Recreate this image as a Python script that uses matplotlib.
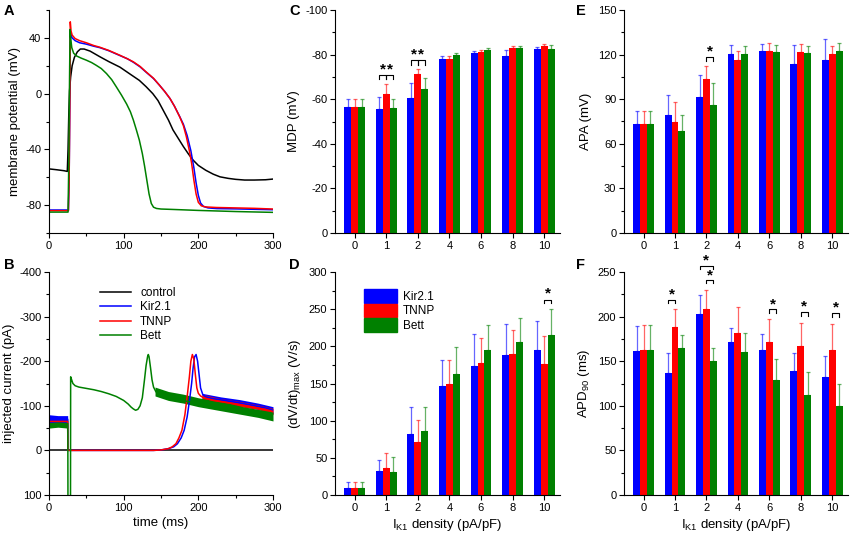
import numpy as np
import matplotlib
matplotlib.use("Agg")
from matplotlib import pyplot as plt
from matplotlib.ticker import MultipleLocator
from matplotlib.patches import Patch

plt.rcParams['font.family'] = ['Liberation Sans', 'DejaVu Sans']
plt.rcParams['font.size'] = 8
plt.rcParams['axes.unicode_minus'] = False

BLUE = '#0000ff'
RED = '#ff0000'
GREEN = '#008000'

# ---- panel A : action potentials (time ms, membrane potential mV)
a_ctrl_t = [0, 10, 20, 24.5, 25.5, 26.5, 27.5, 29, 31, 34, 38, 42, 47, 55, 68, 80, 95, 110, 121, 130, 139,
            146, 153, 160, 166, 173, 180, 187, 193, 200, 210, 220, 229, 240, 250, 262, 275, 290, 300]
a_ctrl_v = [-54, -54.6, -55.3, -55.8, -40, -15, 2, 12, 20, 26, 30, 32, 32, 30.5, 26.5, 23, 19, 13.5, 9.5, 5, 0,
            -5, -12, -19, -26, -32, -38, -43.5, -47.7, -51.5, -55, -57.8, -59.7, -60.8, -61.5, -62, -62, -61.8, -61.3]

a_tnnp_t = [0, 26, 27, 28, 28.5, 29.5, 31, 35, 41, 50, 60, 68, 80, 95, 105, 113, 122, 130, 140, 148, 155, 162,
            168, 175, 180, 184, 188, 191, 194, 197, 200, 204, 210, 224, 250, 275, 300]
a_tnnp_v = [-84, -84, -60, 0, 51.5, 45, 42, 39.5, 38, 36.5, 34.5, 33.3, 31, 27.5, 25, 22.8, 19.5, 15.6, 11, 6, 1.5,
            -3.5, -9, -16.6, -23, -31, -41, -50, -62, -72, -78, -80.5, -81.3, -81.7, -82, -82.3, -82.8]

a_kir_t = [0, 26, 27, 28, 28.7, 29.5, 31, 35, 41, 50, 60, 68, 80, 95, 105, 113, 122, 130, 140, 148, 155, 162,
           168, 175, 180, 185, 190, 194, 197, 200, 203, 207, 213, 225, 250, 275, 300]
a_kir_v = [-83.5, -83.5, -60, 0, 44, 42, 40, 38, 36.5, 35.5, 34, 33, 30.8, 27.3, 25, 22.5, 19.2, 15.4, 10.8, 6, 1.5,
           -3.5, -9, -16.4, -22, -30, -41, -53, -64, -73, -78.5, -81, -82, -82.5, -82.7, -83, -83.3]

a_bett_t = [0, 25.5, 26.5, 27.5, 28.2, 29, 30.5, 33, 37, 43, 50, 57, 63, 70, 77, 84, 90, 97, 104, 109, 113, 117,
            121, 125, 128, 131, 134, 137, 140, 144, 150, 166, 200, 250, 300]
a_bett_v = [-85, -85, -50, 10, 46, 40, 33, 29, 27, 25.5, 24, 22.3, 20.4, 18, 14.4, 10, 5, -1, -7.5, -13, -19, -26,
            -33.4, -43, -52, -62, -72, -78.8, -81.5, -82.4, -82.8, -83.1, -83.8, -84.6, -85.2]

# ---- panel B : injected current (pA)
b_ctrl_t = [0, 300]
b_ctrl_i = [0, 0]

b_kir_t = [0, 25, 25.3, 30, 60, 100, 140, 150, 160, 167, 172, 177, 181, 185, 188, 191, 193, 195, 197, 199, 201,
           203, 206, 210, 220, 235, 250, 270, 290, 300]
b_kir_i = [-70, -70, 0, 0, 0, 0, 0, -1, -4, -8, -15, -28, -45, -75, -110, -150, -185, -210, -215, -200, -170,
           -140, -125, -120, -116, -112, -108, -102, -95, -90]

b_tnnp_t = [0, 25, 25.3, 30, 60, 100, 140, 150, 160, 165, 170, 174, 178, 182, 185, 188, 190, 192, 194, 196, 198,
            200, 203, 207, 220, 235, 250, 270, 290, 300]
b_tnnp_i = [-65, -65, 0, 0, 0, 0, 0, -1, -4, -8, -15, -28, -45, -80, -120, -165, -200, -215, -205, -170, -140,
            -128, -122, -118, -112, -108, -104, -98, -92, -87]

b_bett_t = [0, 25.2, 25.4, 28.8, 29.0, 30, 32, 35, 40, 50, 60, 70, 80, 90, 100, 106, 110, 113, 116, 119, 122,
            125, 128, 130, 132, 133, 134, 136, 138, 140, 143, 147, 155, 170, 185, 200, 220, 240, 260, 280, 300]
b_bett_i = [-60, -60, 120, 120, -165, -160, -150, -145, -142, -139, -136, -132, -127, -121, -112, -104, -97, -93,
            -90, -92, -100, -118, -160, -190, -210, -215, -210, -185, -158, -142, -132, -125, -120, -114, -110,
            -106, -100, -94, -88, -82, -78]

# noise envelopes
nz_kir_t = [0, 12, 25, 205, 230, 255, 280, 300]
nz_kir_lo = [-62, -64, -62, -114, -106, -100, -92, -82]
nz_kir_hi = [-80, -78, -78, -128, -120, -114, -106, -98]
nz_tnnp_t = [205, 230, 255, 280, 300]
nz_tnnp_lo = [-112, -104, -98, -92, -80]
nz_tnnp_hi = [-126, -116, -110, -102, -94]
nz_bett_t = [0, 12, 25, 142, 160, 180, 200, 220, 240, 260, 280, 300]
nz_bett_lo = [-50, -52, -50, -122, -112, -106, -98, -92, -86, -80, -74, -66]
nz_bett_hi = [-70, -68, -70, -142, -132, -126, -118, -112, -106, -98, -92, -86]

# ---- bar panels
groups = ['0', '1', '2', '4', '6', '8', '10']

mdp_kir = [-56.3, -55.5, -60.7, -78.0, -80.6, -79.4, -82.5]
mdp_kir_err = [4.0, 5.4, 6.5, 1.3, 0.9, 2.5, 1.1]
mdp_tnnp = [-56.3, -62.2, -71.2, -78.2, -81.3, -82.8, -84.0]
mdp_tnnp_err = [4.0, 4.8, 2.2, 1.2, 0.9, 0.9, 0.8]
mdp_bett = [-56.3, -56.0, -64.5, -79.7, -82.1, -83.1, -82.4]
mdp_bett_err = [4.0, 3.9, 4.9, 1.2, 0.7, 0.8, 1.8]

dvdt_kir = [9.9, 32.2, 82.0, 146.4, 173.8, 188.0, 194.8]
dvdt_kir_err = [7.1, 14.8, 36.7, 35.0, 43.4, 41.7, 39.9]
dvdt_tnnp = [9.9, 36.7, 71.7, 149.0, 178.2, 190.3, 176.9]
dvdt_tnnp_err = [7.1, 20.2, 29.1, 32.4, 33.2, 32.3, 36.7]
dvdt_bett = [9.9, 31.3, 86.0, 163.0, 195.7, 206.0, 215.8]
dvdt_bett_err = [7.1, 19.3, 31.8, 36.3, 32.7, 32.7, 34.5]

apa_kir = [73.0, 79.5, 91.8, 120.4, 122.2, 113.7, 116.6]
apa_kir_err = [9.2, 13.0, 14.8, 5.9, 5.2, 13.0, 13.9]
apa_tnnp = [73.0, 74.8, 103.7, 116.2, 122.7, 121.8, 120.7]
apa_tnnp_err = [9.2, 13.0, 8.7, 6.5, 5.3, 5.4, 5.3]
apa_bett = [73.0, 68.5, 86.4, 120.2, 121.6, 121.1, 122.4]
apa_bett_err = [9.2, 11.0, 14.6, 5.4, 5.1, 4.5, 5.2]

apd_kir = [161.9, 137.3, 202.6, 171.6, 162.7, 139.2, 132.1]
apd_kir_err = [27.7, 21.7, 21.7, 15.4, 17.9, 19.8, 23.9]
apd_tnnp = [163.0, 188.8, 209.0, 182.0, 172.0, 166.8, 162.7]
apd_tnnp_err = [28.0, 19.4, 21.0, 29.2, 25.0, 26.5, 29.5]
apd_bett = [163.0, 164.6, 150.7, 160.4, 129.0, 112.3, 99.3]
apd_bett_err = [28.0, 14.9, 14.6, 21.6, 23.6, 25.4, 24.6]

# significance: (group, bar a, bar b, bracket top, leg end, star y)
sig_mdp = [(1, 0, 1, -70.9, -69.1, -73.3), (1, 1, 2, -70.9, -69.1, -73.3),
           (2, 0, 1, -77.6, -75.4, -80.0), (2, 1, 2, -77.6, -75.4, -80.0)]
sig_dvdt = [(6, 1, 2, 262, 258, 271)]
sig_apa = [(2, 1, 2, 118.6, 115.7, 122.0)]
sig_apd = [(1, 0, 1, 218.7, 215.0, 225.0), (2, 0, 2, 256.7, 253.8, 262.5), (2, 1, 2, 241.5, 238.0, 246.5),
           (4, 1, 2, 208.6, 204.5, 214.0), (5, 1, 2, 205.6, 200.7, 211.0), (6, 1, 2, 204.5, 200.0, 210.0)]

W = 850
H = 535
fig = plt.figure(figsize=(W / 100, H / 100), dpi=100)


def px_axes(l, t, r, b):
    return fig.add_axes([l / W, 1 - b / H, (r - l) / W, (b - t) / H])


def style(ax):
    ax.spines['top'].set_visible(False)
    ax.spines['right'].set_visible(False)
    for s in ['left', 'bottom']:
        ax.spines[s].set_linewidth(0.8)
    ax.tick_params(direction='out', length=3.5, width=0.8, labelsize=8, pad=2)
    ax.tick_params(which='minor', direction='out', length=2, width=0.8)


LAB = 9.5

# A
axA = px_axes(49, 10, 273, 233)
axA.plot(a_ctrl_t, a_ctrl_v, color='k', lw=1.1)
axA.plot(a_kir_t, a_kir_v, color=BLUE, lw=1.1)
axA.plot(a_tnnp_t, a_tnnp_v, color=RED, lw=1.1)
axA.plot(a_bett_t, a_bett_v, color=GREEN, lw=1.1)
axA.set_xlim(0, 300)
axA.set_ylim(-100, 60)
axA.yaxis.set_minor_locator(MultipleLocator(20))
axA.xaxis.set_major_locator(MultipleLocator(100))
axA.xaxis.set_minor_locator(MultipleLocator(50))
axA.set_yticks([-80, -40, 0, 40])
axA.set_ylabel('membrane potential (mV)', fontsize=LAB, labelpad=3)
style(axA)

# B
axB = px_axes(49, 272, 273, 495)
axB.fill_between(nz_bett_t[:3], nz_bett_lo[:3], nz_bett_hi[:3], color=GREEN, lw=0)
axB.fill_between(nz_kir_t[:3], nz_kir_lo[:3], nz_kir_hi[:3], color=BLUE, lw=0)
axB.fill_between(nz_kir_t[3:], nz_kir_lo[3:], nz_kir_hi[3:], color=BLUE, lw=0)
axB.fill_between(nz_tnnp_t, nz_tnnp_lo, nz_tnnp_hi, color=RED, lw=0)
axB.fill_between(nz_bett_t[3:], nz_bett_lo[3:], nz_bett_hi[3:], color=GREEN, lw=0)
axB.plot(b_ctrl_t, b_ctrl_i, color='k', lw=1.1, label='control')
axB.plot(b_kir_t, b_kir_i, color=BLUE, lw=1.1, label='Kir2.1')
axB.plot(b_tnnp_t, b_tnnp_i, color=RED, lw=1.1, label='TNNP')
axB.plot(b_bett_t, b_bett_i, color=GREEN, lw=1.1, label='Bett')
axB.set_xlim(0, 300)
axB.set_ylim(100, -400)
axB.yaxis.set_major_locator(MultipleLocator(100))
axB.yaxis.set_minor_locator(MultipleLocator(50))
axB.xaxis.set_major_locator(MultipleLocator(100))
axB.xaxis.set_minor_locator(MultipleLocator(50))
axB.set_ylabel('injected current (pA)', fontsize=LAB, labelpad=3)
axB.set_xlabel('time (ms)', fontsize=LAB, labelpad=3)
axB.legend(loc='upper left', bbox_to_anchor=(0.18, 0.98), frameon=False, fontsize=8.5,
           handlelength=2.6, handletextpad=0.8, labelspacing=0.2)
style(axB)

xpos = np.arange(len(groups))
bw = 0.22


def bars(ax, series, neg=False):
    for k, (vals, errs, col) in enumerate(series):
        x = xpos + (k - 1) * bw
        ax.bar(x, vals, width=bw, color=col, edgecolor='none', zorder=2)
        zeros = [0] * len(errs)
        yerr = [errs, zeros] if neg else [zeros, errs]
        ax.errorbar(x, vals, yerr=yerr, fmt='none', ecolor=col, alpha=0.6,
                    elinewidth=0.9, capsize=1.6, capthick=0.9, zorder=3)
    ax.set_xticks(xpos)
    ax.set_xticklabels(groups)
    ax.set_xlim(-0.62, 6.5)
    style(ax)


def sig(ax, marks):
    for g, a, b, top, leg, sy in marks:
        x1 = xpos[g] + (a - 1) * bw
        x2 = xpos[g] + (b - 1) * bw
        ax.plot([x1, x1, x2, x2], [leg, top, top, leg], color='k', lw=0.8, clip_on=False, zorder=4)
        ax.text((x1 + x2) / 2, sy, '*', ha='center', va='center', fontsize=11,
                fontweight='bold', clip_on=False)


# C
axC = px_axes(335, 10, 560, 233)
bars(axC, [(mdp_kir, mdp_kir_err, BLUE), (mdp_tnnp, mdp_tnnp_err, RED), (mdp_bett, mdp_bett_err, GREEN)], neg=True)
axC.set_ylim(0, -100)
axC.yaxis.set_major_locator(MultipleLocator(20))
axC.yaxis.set_minor_locator(MultipleLocator(10))
axC.set_ylabel('MDP (mV)', fontsize=LAB, labelpad=4)
sig(axC, sig_mdp)

# D
axD = px_axes(335, 272, 560, 495)
bars(axD, [(dvdt_kir, dvdt_kir_err, BLUE), (dvdt_tnnp, dvdt_tnnp_err, RED), (dvdt_bett, dvdt_bett_err, GREEN)])
axD.set_ylim(0, 300)
axD.yaxis.set_major_locator(MultipleLocator(50))
axD.yaxis.set_minor_locator(MultipleLocator(25))
axD.set_ylabel('(dV/dt)$_{\\mathregular{max}}$ (V/s)', fontsize=LAB, labelpad=4)
axD.set_xlabel('I$_{\\mathregular{K1}}$ density (pA/pF)', fontsize=LAB, labelpad=3)
sig(axD, sig_dvdt)
handles = [Patch(color=BLUE, label='Kir2.1'), Patch(color=RED, label='TNNP'), Patch(color=GREEN, label='Bett')]
axD.legend(handles=handles, loc='upper left', bbox_to_anchor=(0.08, 0.97), frameon=False, fontsize=8.5,
           handlelength=2.8, handleheight=1.4, handletextpad=0.5, labelspacing=0.05)

# E
axE = px_axes(624, 10, 848, 233)
bars(axE, [(apa_kir, apa_kir_err, BLUE), (apa_tnnp, apa_tnnp_err, RED), (apa_bett, apa_bett_err, GREEN)])
axE.set_ylim(0, 150)
axE.yaxis.set_major_locator(MultipleLocator(30))
axE.yaxis.set_minor_locator(MultipleLocator(15))
axE.set_ylabel('APA (mV)', fontsize=LAB, labelpad=4)
sig(axE, sig_apa)

# F
axF = px_axes(624, 272, 848, 495)
bars(axF, [(apd_kir, apd_kir_err, BLUE), (apd_tnnp, apd_tnnp_err, RED), (apd_bett, apd_bett_err, GREEN)])
axF.set_ylim(0, 250)
axF.yaxis.set_major_locator(MultipleLocator(50))
axF.yaxis.set_minor_locator(MultipleLocator(25))
axF.set_ylabel('APD$_{\\mathregular{90}}$ (ms)', fontsize=LAB, labelpad=4)
axF.set_xlabel('I$_{\\mathregular{K1}}$ density (pA/pF)', fontsize=LAB, labelpad=3)
sig(axF, sig_apd)

# panel letters
for lab, x, y in [('A', 4, 4), ('B', 4, 258), ('C', 289, 4), ('D', 289, 258), ('E', 576, 4), ('F', 576, 258)]:
    fig.text(x / W, 1 - y / H, lab, fontsize=10.5, fontweight='bold', va='top', ha='left')

fig.savefig('out.png', dpi=100)
